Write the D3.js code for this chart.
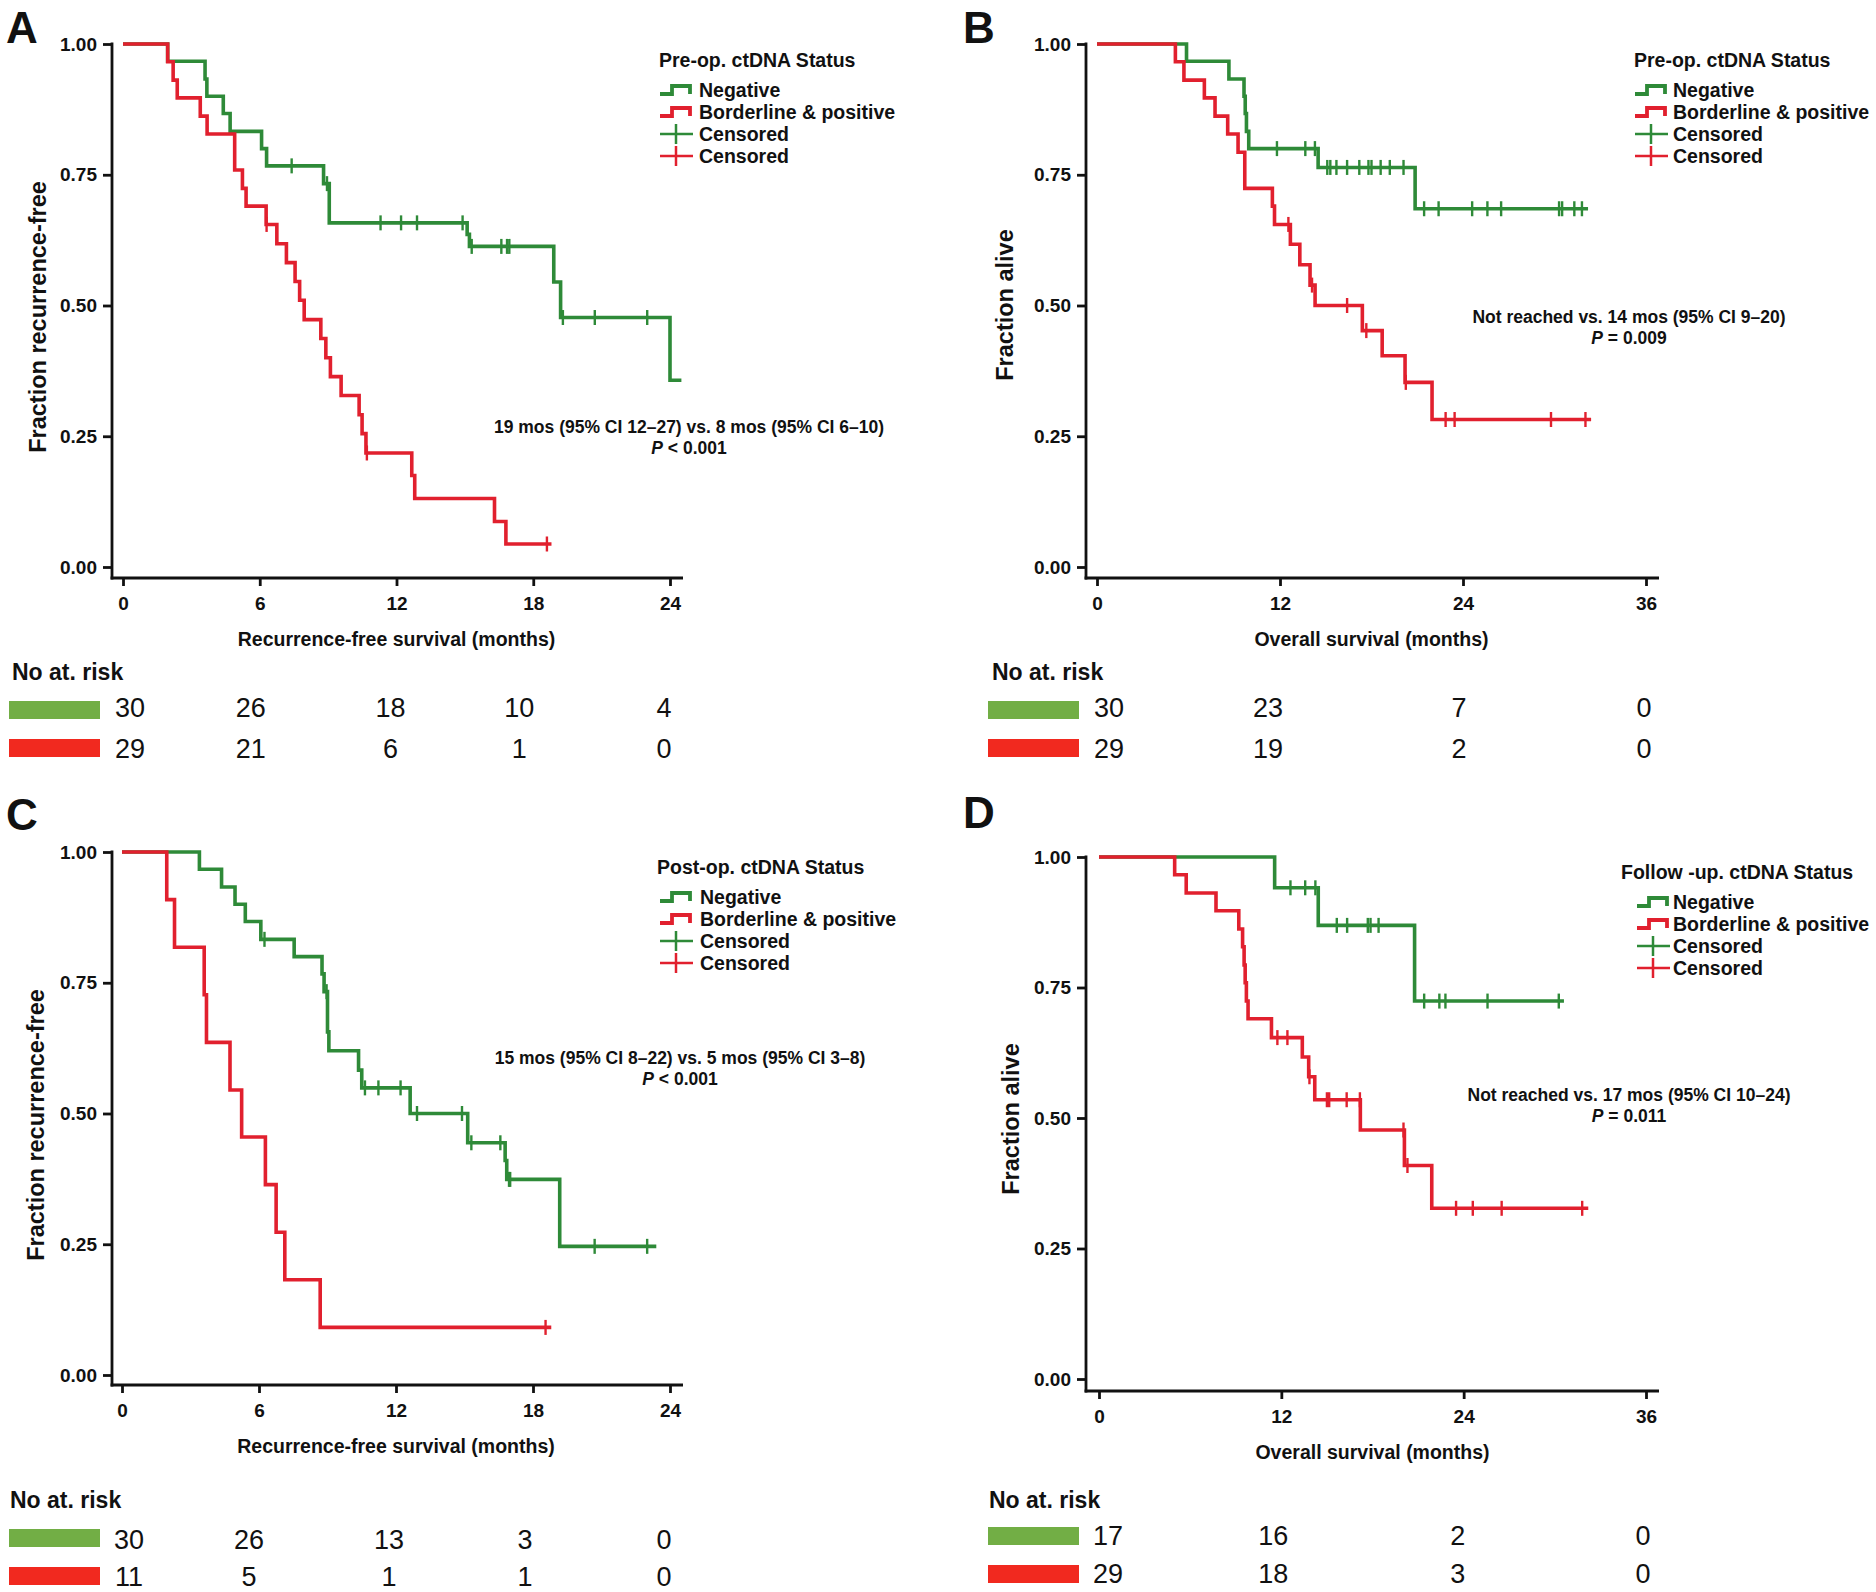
<!DOCTYPE html>
<html><head><meta charset="utf-8">
<script src="https://cdn.jsdelivr.net/npm/d3@7"></script>
<style>
body{margin:0;background:#fff}
svg{display:block}
text{font-family:"Liberation Sans",Arial,Helvetica,sans-serif;fill:#111}
</style>
</head><body>
<svg id="c" width="1876" height="1592"></svg>
<script>
// ---------- shared tick values ----------
const rfsTicks = [0, 6, 12, 18, 24];
const osTicks = [0, 12, 24, 36];
const survTicks = [0, 0.25, 0.5, 0.75, 1];

// ---------- Panel A: pre-op ctDNA, RFS ----------
const aNegSteps = [[1.96,0.967],[3.6,0.933],[3.68,0.9],[4.4,0.867],[4.7,0.833],[6.08,0.8],[6.3,0.767],[8.8,0.733],[9.05,0.658],[15.1,0.636],[15.2,0.613],[18.9,0.545],[19.2,0.477],[24.0,0.357]];
const aNegEnd = 24.5;
const aNegCensored = [7.4, 8.95, 11.3, 12.2, 12.9, 14.9, 15.3, 16.6, 16.85, 16.95, 19.3, 20.7, 23.0];
const aPosSteps = [[1.96,0.966],[2.2,0.931],[2.38,0.897],[3.39,0.862],[3.69,0.828],[4.9,0.759],[5.24,0.724],[5.4,0.69],[6.28,0.655],[6.75,0.618],[7.17,0.582],[7.55,0.546],[7.75,0.51],[7.95,0.473],[8.68,0.437],[8.9,0.4],[9.1,0.364],[9.57,0.328],[10.36,0.291],[10.49,0.255],[10.66,0.218],[12.67,0.175],[12.8,0.131],[16.3,0.087],[16.8,0.044]];
const aPosEnd = 18.8;
const aPosCensored = [6.3, 10.7, 18.6];
const aRiskNeg = [30, 26, 18, 10, 4];
const aRiskPos = [29, 21, 6, 1, 0];

// ---------- Panel B: pre-op ctDNA, OS ----------
const bNegSteps = [[5.87,0.967],[8.65,0.933],[9.64,0.9],[9.72,0.867],[9.8,0.833],[9.95,0.8],[14.5,0.764],[20.86,0.685]];
const bNegEnd = 32.2;
const bNegCensored = [11.8, 13.66, 14.29, 15.1, 15.3, 15.7, 16.4, 17.2, 17.8, 18.0, 18.6, 19.2, 20.1, 21.45, 22.4, 24.6, 25.6, 26.5, 30.3, 30.5, 31.3, 31.8];
const bPosSteps = [[5.14,0.966],[5.7,0.931],[7.04,0.897],[7.74,0.862],[8.57,0.828],[9.25,0.793],[9.69,0.724],[11.5,0.69],[11.64,0.655],[12.68,0.617],[13.3,0.578],[13.97,0.539],[14.3,0.5],[17.4,0.452],[18.7,0.404],[20.2,0.353],[21.97,0.282]];
const bPosEnd = 32.4;
const bPosCensored = [12.55, 14.1, 16.4, 17.66, 20.25, 22.86, 23.45, 29.77, 32.03];
const bRiskNeg = [30, 23, 7, 0];
const bRiskPos = [29, 19, 2, 0];

// ---------- Panel C: post-op ctDNA, RFS ----------
const cNegSteps = [[3.39,0.967],[4.36,0.933],[4.95,0.9],[5.4,0.867],[6.08,0.833],[7.54,0.8],[8.76,0.767],[8.85,0.733],[9.0,0.656],[9.06,0.62],[10.36,0.583],[10.5,0.549],[12.62,0.5],[15.14,0.444],[16.78,0.41],[16.85,0.374],[19.17,0.246]];
const cNegEnd = 23.4;
const cNegCensored = [6.24, 8.96, 10.64, 11.23, 12.2, 12.92, 14.89, 15.3, 16.57, 16.95, 17.0, 20.7, 23.0];
const cPosSteps = [[1.96,0.909],[2.3,0.818],[3.6,0.727],[3.7,0.636],[4.73,0.545],[5.24,0.455],[6.28,0.364],[6.75,0.273],[7.13,0.182],[8.68,0.091]];
const cPosEnd = 18.8;
const cPosCensored = [18.55];
const cRiskNeg = [30, 26, 13, 3, 0];
const cRiskPos = [11, 5, 1, 1, 0];

// ---------- Panel D: follow-up ctDNA, OS ----------
const dNegSteps = [[11.56,0.941],[14.43,0.869],[20.77,0.724]];
const dNegEnd = 30.6;
const dNegCensored = [12.6, 13.57, 14.24, 15.65, 16.33, 17.69, 17.87, 18.4, 21.4, 22.4, 22.8, 25.57, 30.26];
const dPosSteps = [[4.98,0.966],[5.74,0.931],[7.7,0.897],[9.2,0.862],[9.45,0.828],[9.55,0.793],[9.62,0.759],[9.7,0.724],[9.81,0.69],[11.35,0.654],[13.38,0.617],[13.8,0.579],[14.2,0.535],[17.2,0.477],[20.1,0.409],[21.9,0.327]];
const dPosEnd = 32.2;
const dPosCensored = [11.74, 12.4, 13.85, 15.0, 15.15, 16.3, 17.17, 20.04, 20.3, 23.5, 24.6, 26.5, 31.8];
const dRiskNeg = [17, 16, 2, 0];
const dRiskPos = [29, 18, 3, 0];

// ---------- labels ----------
const seriesNames = ["Negative", "Borderline & positive", "Censored", "Censored"];
const legendTitles = ["Pre-op. ctDNA Status", "Pre-op. ctDNA Status", "Post-op. ctDNA Status", "Follow -up. ctDNA Status"];
const medianTexts = ["19 mos (95% CI 12\u201327) vs. 8 mos (95% CI 6\u201310)", "Not reached vs. 14 mos (95% CI 9\u201320)", "15 mos (95% CI 8\u201322) vs. 5 mos (95% CI 3\u20138)", "Not reached vs. 17 mos (95% CI 10\u201324)"];
const pTexts = [" < 0.001", " = 0.009", " < 0.001", " = 0.011"];
const panelLetters = ["A", "B", "C", "D"];
const xTitles = ["Recurrence-free survival (months)", "Overall survival (months)", "Recurrence-free survival (months)", "Overall survival (months)"];
const yTitles = ["Fraction recurrence-free", "Fraction alive", "Fraction recurrence-free", "Fraction alive"];

// ---------- styles ----------
const GREEN = "#2e8a38", RED = "#e1202e";
const BAR_GREEN = "#72ae45", BAR_RED = "#f1291f";

const svg = d3.select("#c");

// layout per panel (pixel geometry only)
const layouts = [
  {yAxisX:112,  xRange:[123,670],   yRange:[567,44],    xAxisY:578,  letter:[6,43],   riskShift:[7,-9,-6,-14,-6]},
  {yAxisX:1086, xRange:[1097,1646], yRange:[567,44],    xAxisY:578,  letter:[963,43], riskShift:[12,-12,-4,-2]},
  {yAxisX:112,  xRange:[122,670],   yRange:[1375,852],  xAxisY:1385, letter:[6,830],  riskShift:[7,-10,-7,-8,-6]},
  {yAxisX:1086, xRange:[1099,1646], yRange:[1379,857],  xAxisY:1391, letter:[963,828],riskShift:[9,-8,-6,-3]}
];

const panels = [
  {ticks:rfsTicks, xMax:24, neg:[aNegSteps,aNegEnd,aNegCensored], pos:[aPosSteps,aPosEnd,aPosCensored], risk:[aRiskNeg,aRiskPos],
   legend:[659,60,660,699], anno:[689,427], yTitle:[38,317], risk0:[12,672,9,701,739,708,749]},
  {ticks:osTicks, xMax:36, neg:[bNegSteps,bNegEnd,bNegCensored], pos:[bPosSteps,bPosEnd,bPosCensored], risk:[bRiskNeg,bRiskPos],
   legend:[1634,60,1635,1673], anno:[1629,317], yTitle:[1005,305], risk0:[992,672,988,701,739,708,749]},
  {ticks:rfsTicks, xMax:24, neg:[cNegSteps,cNegEnd,cNegCensored], pos:[cPosSteps,cPosEnd,cPosCensored], risk:[cRiskNeg,cRiskPos],
   legend:[657,867,660,700], anno:[680,1058], yTitle:[36,1125], risk0:[10,1500,9,1529,1567,1540,1577]},
  {ticks:osTicks, xMax:36, neg:[dNegSteps,dNegEnd,dNegCensored], pos:[dPosSteps,dPosEnd,dPosCensored], risk:[dRiskNeg,dRiskPos],
   legend:[1621,872,1637,1673], anno:[1629,1095], yTitle:[1011,1119], risk0:[989,1500,988,1527,1565,1536,1574]}
];

function survAt(steps, t) {
  let s = 1;
  for (const [tt, v] of steps) { if (tt <= t + 1e-9) s = v; else break; }
  return s;
}

panels.forEach((p, i) => {
  const L = layouts[i];
  const g = svg.append("g");
  const x = d3.scaleLinear().domain([0, p.xMax]).range(L.xRange);
  const y = d3.scaleLinear().domain([0, 1]).range(L.yRange);

  // panel letter
  g.append("text").attr("x", L.letter[0]).attr("y", L.letter[1])
    .attr("font-size", 44).attr("font-weight", "bold").text(panelLetters[i]);

  // y axis
  const ya = g.append("g").attr("transform", `translate(${L.yAxisX},0)`)
    .call(d3.axisLeft(y).tickValues(survTicks).tickFormat(d3.format(".2f")).tickSize(9).tickPadding(6));
  ya.select(".domain").remove();
  ya.selectAll(".tick line").attr("stroke", "#111").attr("stroke-width", 2.8);
  ya.selectAll(".tick text").attr("font-size", 19).attr("font-weight", "bold").attr("fill", "#111")
    .attr("font-family", '"Liberation Sans",Arial,sans-serif');
  g.append("line").attr("x1", L.yAxisX).attr("x2", L.yAxisX).attr("y1", y(1) - 1.4).attr("y2", L.xAxisY + 1.4)
    .attr("stroke", "#111").attr("stroke-width", 2.8);

  // x axis
  const xa = g.append("g").attr("transform", `translate(0,${L.xAxisY})`)
    .call(d3.axisBottom(x).tickValues(p.ticks).tickFormat(d3.format("d")).tickSize(8).tickPadding(11));
  xa.select(".domain").remove();
  xa.selectAll(".tick line").attr("stroke", "#111").attr("stroke-width", 2.8);
  xa.selectAll(".tick text").attr("font-size", 19).attr("font-weight", "bold").attr("fill", "#111")
    .attr("font-family", '"Liberation Sans",Arial,sans-serif');
  g.append("line").attr("x1", L.yAxisX - 1.4).attr("x2", x(p.xMax) + 13).attr("y1", L.xAxisY).attr("y2", L.xAxisY)
    .attr("stroke", "#111").attr("stroke-width", 2.8);

  // axis titles
  g.append("text").attr("x", (L.xRange[0] + L.xRange[1]) / 2).attr("y", L.xAxisY + 61)
    .attr("text-anchor", "middle").attr("dominant-baseline", "central")
    .attr("font-size", 19.5).attr("font-weight", "bold").text(xTitles[i]);
  g.append("text").attr("transform", `translate(${p.yTitle[0]},${p.yTitle[1]}) rotate(-90)`)
    .attr("text-anchor", "middle").attr("dominant-baseline", "central")
    .attr("font-size", 23.5).attr("font-weight", "bold").text(yTitles[i]);

  // curves
  const line = d3.line().x(d => x(d[0])).y(d => y(d[1])).curve(d3.curveStepAfter);
  [[p.neg, GREEN], [p.pos, RED]].forEach(([[steps, end, cens], col]) => {
    const pts = [[0, 1], ...steps, [end, steps[steps.length - 1][1]]];
    g.append("path").datum(pts).attr("d", line).attr("fill", "none")
      .attr("stroke", col).attr("stroke-width", 3.6).attr("stroke-linejoin", "miter");
    g.selectAll(null).data(cens).enter().append("line")
      .attr("x1", d => x(d)).attr("x2", d => x(d))
      .attr("y1", d => y(survAt(steps, d)) - 7.5).attr("y2", d => y(survAt(steps, d)) + 7.5)
      .attr("stroke", col).attr("stroke-width", 2.4);
  });

  // legend
  const [tx, ty, sx, lx] = p.legend;
  g.append("text").attr("x", tx).attr("y", ty).attr("dominant-baseline", "central")
    .attr("font-size", 19.5).attr("font-weight", "bold").text(legendTitles[i]);
  const cols = [GREEN, RED, GREEN, RED];
  seriesNames.forEach((nm, k) => {
    const cy = ty + 30 + k * 22;
    if (k < 2) {
      g.append("path").attr("d", `M${sx},${cy + 4}H${sx + 12}V${cy - 4}H${sx + 30}V${cy + 4}`)
        .attr("fill", "none").attr("stroke", cols[k]).attr("stroke-width", 3.8);
    } else {
      g.append("line").attr("x1", sx).attr("x2", sx + 33).attr("y1", cy).attr("y2", cy)
        .attr("stroke", cols[k]).attr("stroke-width", 2.5);
      g.append("line").attr("x1", sx + 16).attr("x2", sx + 16).attr("y1", cy - 10).attr("y2", cy + 10)
        .attr("stroke", cols[k]).attr("stroke-width", 2.5);
    }
    g.append("text").attr("x", lx).attr("y", cy).attr("dominant-baseline", "central")
      .attr("font-size", 19.5).attr("font-weight", "bold").text(nm);
  });

  // median annotation
  g.append("text").attr("x", p.anno[0]).attr("y", p.anno[1]).attr("text-anchor", "middle")
    .attr("dominant-baseline", "central").attr("font-size", 17.5).attr("font-weight", "bold").text(medianTexts[i]);
  const pt = g.append("text").attr("x", p.anno[0]).attr("y", p.anno[1] + 21).attr("text-anchor", "middle")
    .attr("dominant-baseline", "central").attr("font-size", 17.5).attr("font-weight", "bold");
  pt.append("tspan").attr("font-style", "italic").text("P");
  pt.append("tspan").text(pTexts[i]);

  // number at risk
  const [rx, ry, bx, gy, rdy, ny1, ny2] = p.risk0;
  g.append("text").attr("x", rx).attr("y", ry).attr("dominant-baseline", "central")
    .attr("font-size", 23).attr("font-weight", "bold").text("No at. risk");
  g.append("rect").attr("x", bx).attr("y", gy).attr("width", 91).attr("height", 18).attr("fill", BAR_GREEN);
  g.append("rect").attr("x", bx).attr("y", rdy).attr("width", 91).attr("height", 18).attr("fill", BAR_RED);
  [[p.risk[0], ny1], [p.risk[1], ny2]].forEach(([vals, yy]) => {
    g.selectAll(null).data(vals).enter().append("text")
      .attr("x", (d, j) => x(p.ticks[j]) + L.riskShift[j]).attr("y", yy)
      .attr("text-anchor", "middle").attr("dominant-baseline", "central")
      .attr("font-size", 27).text(d => d);
  });
});
</script>
</body></html>
